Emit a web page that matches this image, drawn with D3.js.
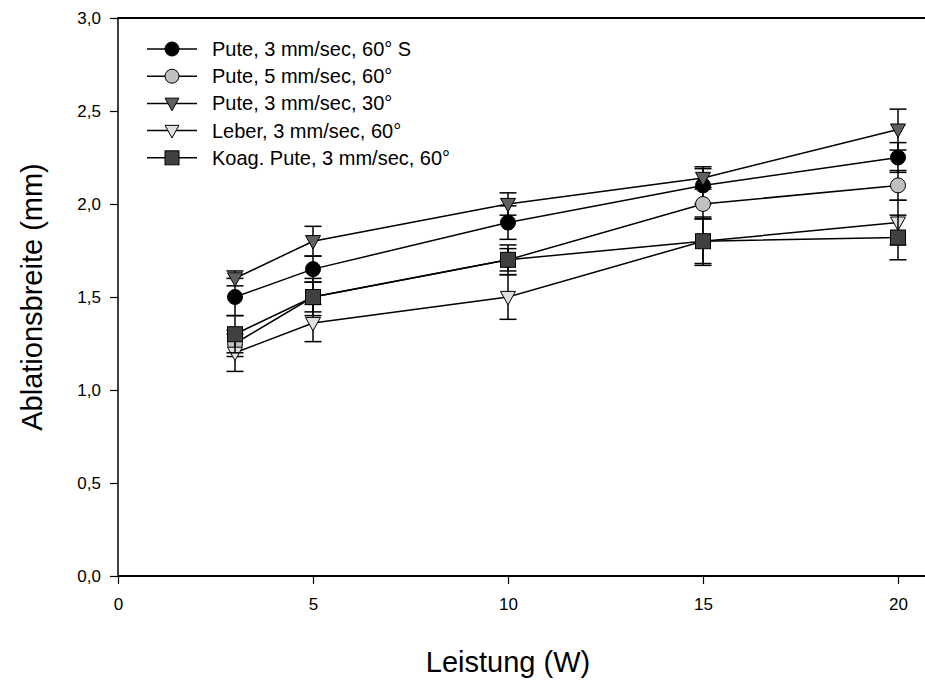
<!DOCTYPE html>
<html><head><meta charset="utf-8">
<script src="https://cdn.jsdelivr.net/npm/d3@7"></script>
<style>body{margin:0;background:#fff}svg{display:block}text{font-family:"Liberation Sans",Arial,sans-serif}</style>
</head><body><svg id="c" width="925" height="680"></svg>
<script>
const xValues = [3, 5, 10, 15, 20];
const seriesNames = ["Pute, 3 mm/sec, 60° S", "Pute, 5 mm/sec, 60°", "Pute, 3 mm/sec, 30°", "Leber, 3 mm/sec, 60°", "Koag. Pute, 3 mm/sec, 60°"];
const s1Values = [1.50, 1.65, 1.90, 2.10, 2.25];
const s1Errors = [0.10, 0.07, 0.09, 0.10, 0.08];
const s2Values = [1.25, 1.50, 1.70, 2.00, 2.10];
const s2Errors = [0.07, 0.10, 0.08, 0.08, 0.08];
const s3Values = [1.60, 1.80, 2.00, 2.14, 2.40];
const s3Errors = [0.04, 0.08, 0.06, 0.05, 0.11];
const s4Values = [1.20, 1.36, 1.50, 1.80, 1.90];
const s4Errors = [0.10, 0.10, 0.12, 0.13, 0.12];
const s5Values = [1.30, 1.50, 1.70, 1.80, 1.82];
const s5Errors = [0.10, 0.08, 0.06, 0.12, 0.12];
const xTicks = [0, 5, 10, 15, 20];
const yTicks = [0, 0.5, 1.0, 1.5, 2.0, 2.5, 3.0];

const markers = ["circle", "circle", "triDown", "triDown", "square"];
const fills = ["#000000", "#c0c0c0", "#606060", "#e0e0e0", "#404040"];

const svg = d3.select("#c");
const x = d3.scaleLinear().domain([0, 20]).range([118, 898]);
const y = d3.scaleLinear().domain([0, 3]).range([576, 18]);
const loc = d3.formatLocale({decimal: ",", thousands: ".", grouping: [3], currency: ["", "€"]});
const fmtY = loc.format(".1f");

// axes
const gx = svg.append("g").attr("transform", "translate(0,576)")
  .call(d3.axisBottom(x).tickValues(xTicks).tickSize(8).tickPadding(14).tickFormat(d3.format("d")));
gx.select(".domain").remove();
gx.selectAll(".tick line").attr("stroke", "#000").attr("stroke-width", 1.2);
gx.selectAll("text").attr("font-size", 17).attr("fill", "#000");

const gy = svg.append("g").attr("transform", "translate(118,0)")
  .call(d3.axisLeft(y).tickValues(yTicks).tickSize(8).tickPadding(9).tickFormat(fmtY));
gy.select(".domain").remove();
gy.selectAll(".tick line").attr("stroke", "#000").attr("stroke-width", 1.2);
gy.selectAll("text").attr("font-size", 17).attr("fill", "#000");

svg.append("line").attr("x1", x(0)).attr("x2", 925).attr("y1", y(0)).attr("y2", y(0)).attr("stroke", "#000").attr("stroke-width", 2);
svg.append("line").attr("x1", x(0)).attr("x2", 925).attr("y1", y(3)).attr("y2", y(3)).attr("stroke", "#000").attr("stroke-width", 2);
svg.append("line").attr("x1", x(0)).attr("x2", x(0)).attr("y1", y(3) - 1).attr("y2", y(0) + 1).attr("stroke", "#000").attr("stroke-width", 1.5);

// titles
svg.append("text").attr("x", x(10)).attr("y", 672).attr("text-anchor", "middle").attr("font-size", 29).text("Leistung (W)");
svg.append("text").attr("transform", `translate(42,${y(1.5)}) rotate(-90)`).attr("text-anchor", "middle").attr("font-size", 29).text("Ablationsbreite (mm)");

function drawMarker(g, type, cx, cy, fill, r) {
  if (type === "circle") {
    g.append("circle").attr("cx", cx).attr("cy", cy).attr("r", r).attr("fill", fill).attr("stroke", "#000").attr("stroke-width", 1);
  } else if (type === "square") {
    g.append("rect").attr("x", cx - r).attr("y", cy - r).attr("width", 2 * r).attr("height", 2 * r).attr("fill", fill).attr("stroke", "#000").attr("stroke-width", 1);
  } else {
    const h = r * 1.0;
    g.append("path").attr("d", `M${cx - r},${cy - h * 0.75}L${cx + r},${cy - h * 0.75}L${cx},${cy + h * 1.05}Z`)
      .attr("fill", fill).attr("stroke", "#000").attr("stroke-width", 1);
  }
}

const allValues = [s1Values, s2Values, s3Values, s4Values, s5Values];
const allErrors = [s1Errors, s2Errors, s3Errors, s4Errors, s5Errors];
const line = d3.line().x(d => x(d[0])).y(d => y(d[1]));

allValues.forEach((vals, i) => {
  const g = svg.append("g");
  const errs = allErrors[i];
  vals.forEach((v, j) => {
    const cx = x(xValues[j]);
    g.append("line").attr("x1", cx).attr("x2", cx).attr("y1", y(v - errs[j])).attr("y2", y(v + errs[j])).attr("stroke", "#000").attr("stroke-width", 1.5);
    [v - errs[j], v + errs[j]].forEach(e => {
      g.append("line").attr("x1", cx - 8.5).attr("x2", cx + 8.5).attr("y1", y(e)).attr("y2", y(e)).attr("stroke", "#000").attr("stroke-width", 1.5);
    });
  });
  g.append("path").datum(vals.map((v, j) => [xValues[j], v])).attr("d", line).attr("fill", "none").attr("stroke", "#000").attr("stroke-width", 1.5);
  vals.forEach((v, j) => drawMarker(g, markers[i], x(xValues[j]), y(v), fills[i], 7.5));
});

// legend
const lg = svg.append("g");
seriesNames.forEach((name, i) => {
  const ly = 49 + i * 27.2;
  lg.append("line").attr("x1", 147).attr("x2", 197).attr("y1", ly).attr("y2", ly).attr("stroke", "#000").attr("stroke-width", 1.5);
  drawMarker(lg, markers[i], 172, ly, fills[i], 7);
  lg.append("text").attr("x", 212).attr("y", ly + 7).attr("font-size", 20).text(name);
});
</script></body></html>
